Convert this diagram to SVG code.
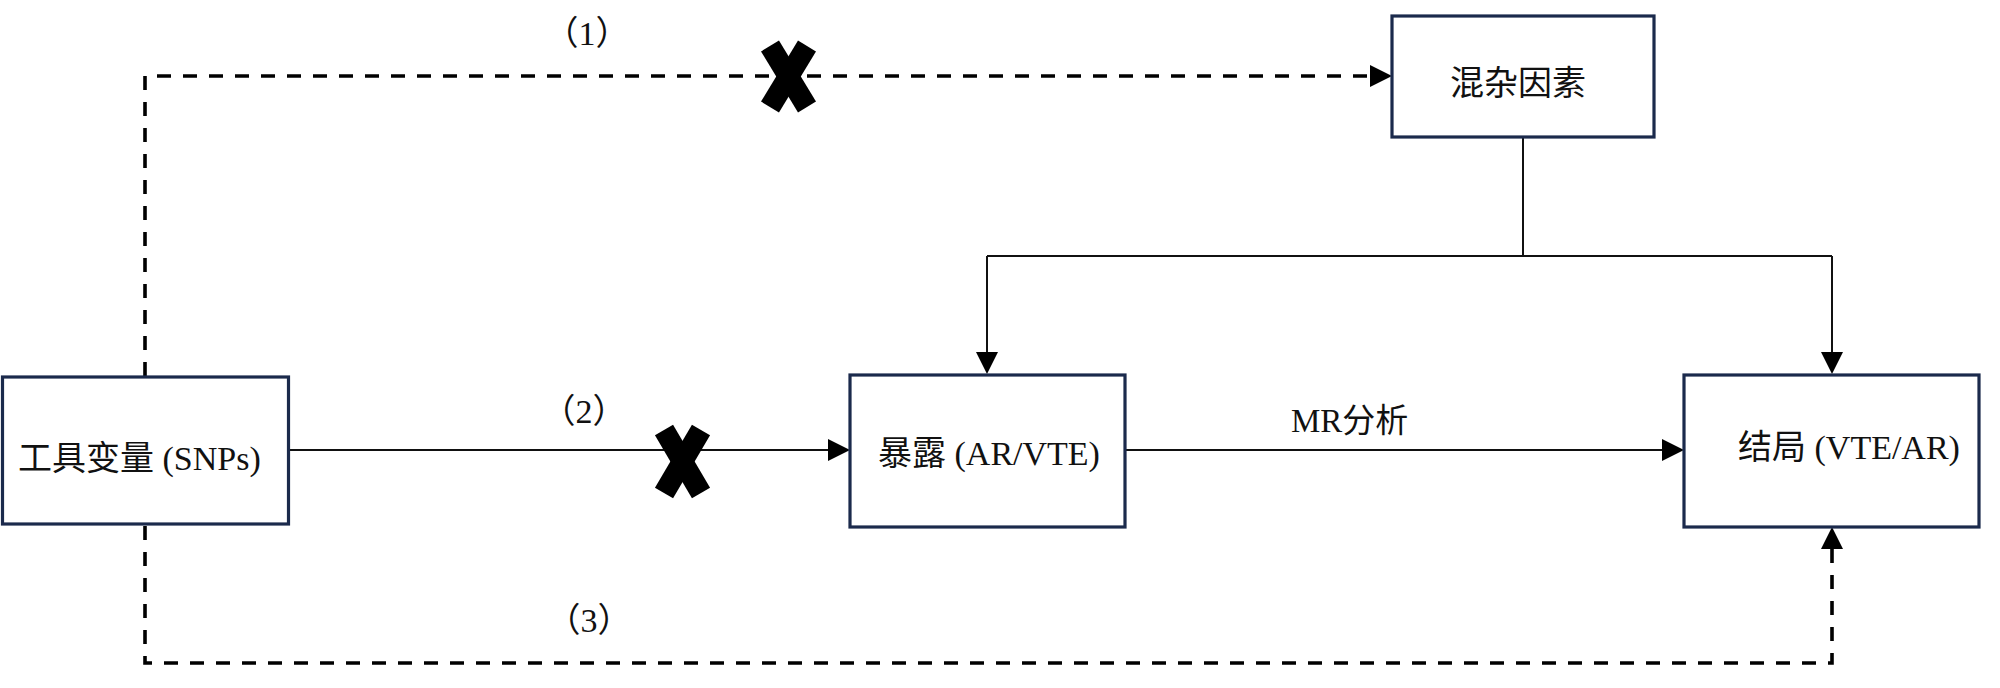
<svg xmlns="http://www.w3.org/2000/svg" width="2000" height="688" viewBox="0 0 2000 688">
<style>
.box{fill:#ffffff;stroke:#1b2a4c;stroke-width:3.2}
.t{font-family:"Liberation Serif","Noto Sans CJK SC",serif;font-size:34px;fill:#111111}
.lbl{font-family:"Liberation Serif","Noto Sans CJK SC",serif;font-size:34px;fill:#111111}
.solid{fill:none;stroke:#111111;stroke-width:2}
.dash{fill:none;stroke:#000000;stroke-width:3.6;stroke-dasharray:14 12}
.cross{stroke:#000000;stroke-width:21;stroke-linecap:butt}
</style>
<defs>
<marker id="arr" viewBox="0 -11 22 22" refX="0" refY="0" markerWidth="22" markerHeight="22" markerUnits="userSpaceOnUse" orient="auto">
<path d="M0,-11 L22,0 L0,11 Z" fill="#000000"/>
</marker>
</defs>
<rect width="2000" height="688" fill="#ffffff"/>
<g id="connectors">
<path class="dash" d="M145,376 V76 H1370" marker-end="url(#arr)"/>
<path class="dash" d="M145,526 V663 H1832 V549" marker-end="url(#arr)"/>
<path class="solid" d="M289,450 H828" marker-end="url(#arr)"/>
<path class="solid" d="M1125,450 H1662" marker-end="url(#arr)"/>
<path class="solid" d="M1523,138 V256"/>
<path class="solid" d="M987,256 H1832"/>
<path class="solid" d="M987,256 V352" marker-end="url(#arr)"/>
<path class="solid" d="M1832,256 V352" marker-end="url(#arr)"/>
<g id="cross1">
<line class="cross" x1="770" y1="46" x2="807" y2="107"/>
<line class="cross" x1="807" y1="46" x2="770" y2="107"/>
</g>
<g id="cross2">
<line class="cross" x1="664" y1="430" x2="701" y2="493"/>
<line class="cross" x1="701" y1="430" x2="664" y2="493"/>
</g>
<text class="lbl" x="587" y="45" text-anchor="middle">（1）</text>
<text class="lbl" x="584" y="423" text-anchor="middle">（2）</text>
<text class="lbl" x="589" y="632" text-anchor="middle">（3）</text>
<text class="t" x="1291" y="432" style="font-size:33px">MR分析</text>
</g>
<g id="node-instrument">
<rect class="box" x="2.5" y="377" width="286" height="147"/>
<text class="t" x="18" y="470">工具变量 (SNPs)</text>
</g>
<g id="node-exposure">
<rect class="box" x="850" y="375" width="275" height="152"/>
<text class="t" x="878" y="465">暴露 (AR/VTE)</text>
</g>
<g id="node-confounder">
<rect class="box" x="1392" y="16" width="262" height="121"/>
<text class="t" x="1450" y="95">混杂因素</text>
</g>
<g id="node-outcome">
<rect class="box" x="1684" y="375" width="295" height="152"/>
<text class="t" x="1738" y="459">结局 (VTE/AR)</text>
</g>
</svg>
